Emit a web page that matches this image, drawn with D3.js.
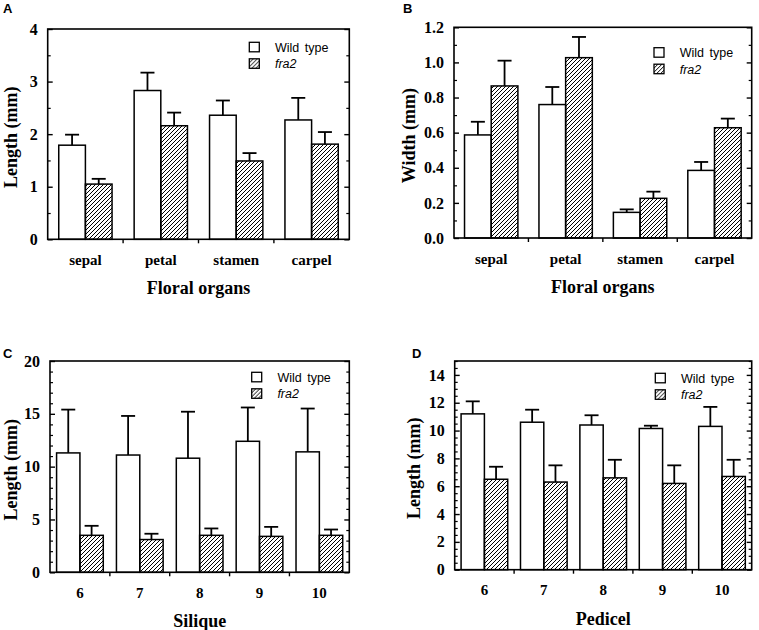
<!DOCTYPE html>
<html>
<head>
<meta charset="utf-8">
<script src="https://cdn.jsdelivr.net/npm/d3@7"></script>
<style>
  body { margin: 0; background: #fff; }
  svg { display: block; }
  .tick-label { font-family: "Liberation Serif", "Times New Roman", serif; font-weight: bold; font-size: 16px; }
  .xtick-label { font-family: "Liberation Serif", "Times New Roman", serif; font-weight: bold; font-size: 15px; }
  .axis-title { font-family: "Liberation Serif", "Times New Roman", serif; font-weight: bold; font-size: 18px; }
  .legend-text { font-family: "Liberation Sans", Arial, sans-serif; font-size: 12.5px; word-spacing: 2px; }
  .panel-letter { font-family: "Liberation Sans", Arial, sans-serif; font-weight: bold; font-size: 13px; }
</style>
</head>
<body>
<svg id="fig" width="759" height="630"></svg>
<script>
// ---- data ----
var organs = ['sepal', 'petal', 'stamen', 'carpel'];
var organLenWT = [1.79, 2.83, 2.36, 2.27];
var organLenWTErr = [0.20, 0.34, 0.28, 0.42];
var organLenFra2 = [1.05, 2.16, 1.49, 1.81];
var organLenFra2Err = [0.10, 0.25, 0.15, 0.23];

var organWidWT = [0.587, 0.76, 0.146, 0.385];
var organWidWTErr = [0.075, 0.10, 0.017, 0.048];
var organWidFra2 = [0.866, 1.027, 0.226, 0.628];
var organWidFra2Err = [0.144, 0.118, 0.038, 0.052];

var positions = ['6', '7', '8', '9', '10'];
var siliqueWT = [11.3, 11.1, 10.8, 12.4, 11.4];
var siliqueWTErr = [4.1, 3.7, 4.4, 3.2, 4.1];
var siliqueFra2 = [3.5, 3.1, 3.5, 3.4, 3.5];
var siliqueFra2Err = [0.9, 0.55, 0.65, 0.9, 0.55];

var pedicelWT = [11.2, 10.6, 10.4, 10.15, 10.3];
var pedicelWTErr = [0.9, 0.9, 0.7, 0.2, 1.4];
var pedicelFra2 = [6.5, 6.3, 6.6, 6.2, 6.7];
var pedicelFra2Err = [0.9, 1.2, 1.3, 1.3, 1.2];

var seriesNames = ['Wild type', 'fra2'];

// ---- panel layout (frame box, axis setup, legend spot) ----
var panels = [
  {letter: 'A', lx: 3, ly: 13, box: [47.7, 29, 349.3, 239.3], ymax: 4, major: 1, minor: 0.5, fmt: d3.format('d'),
   cats: organs, wt: organLenWT, wtErr: organLenWTErr, mu: organLenFra2, muErr: organLenFra2Err, pad: 0.293,
   xlab: 'Floral organs', ylab: 'Length (mm)', ylabX: 16.5, leg: [249.3, 42.3]},
  {letter: 'B', lx: 403, ly: 13, box: [454, 27.3, 751.7, 238], ymax: 1.2, major: 0.2, minor: 0.1, fmt: d3.format('.1f'),
   cats: organs, wt: organWidWT, wtErr: organWidWTErr, mu: organWidFra2, muErr: organWidFra2Err, pad: 0.283,
   xlab: 'Floral organs', ylab: 'Width (mm)', ylabX: 415, leg: [654, 47.7]},
  {letter: 'C', lx: 3, ly: 358, box: [50, 361, 349.3, 572.3], ymax: 20, major: 5, minor: 1, fmt: d3.format('d'),
   cats: positions, wt: siliqueWT, wtErr: siliqueWTErr, mu: siliqueFra2, muErr: siliqueFra2Err, pad: 0.22,
   xlab: 'Silique', ylab: 'Length (mm)', ylabX: 16.5, leg: [251.7, 372.3]},
  {letter: 'D', lx: 412, ly: 358, box: [454.7, 361, 751.7, 569.7], ymax: 15, major: 2, minor: 0.5, fmt: d3.format('d'),
   cats: positions, wt: pedicelWT, wtErr: pedicelWTErr, mu: pedicelFra2, muErr: pedicelFra2Err, pad: 0.215,
   xlab: 'Pedicel', ylab: 'Length (mm)', ylabX: 420, leg: [655.3, 373.3]}
];

var svg = d3.select('#fig');

// hatch for the fra2 bars
var defs = svg.append('defs');
defs.append('pattern')
    .attr('id', 'hatch')
    .attr('patternUnits', 'userSpaceOnUse')
    .attr('width', 4).attr('height', 4)
    .append('path')
    .attr('d', 'M-1,1 l2,-2 M0,4 l4,-4 M3,5 l2,-2')
    .attr('stroke', '#000')
    .attr('stroke-width', 1);

function drawPanel(p) {
    var left = p.box[0], top = p.box[1], right = p.box[2], bottom = p.box[3];
    var g = svg.append('g');

    var x0 = d3.scaleBand().domain(p.cats).range([left, right])
               .paddingInner(p.pad).paddingOuter(p.pad / 2);
    var x1 = d3.scaleBand().domain(seriesNames).range([0, x0.bandwidth()]);
    var y = d3.scaleLinear().domain([0, p.ymax]).range([bottom, top]);

    var majors = d3.range(0, p.ymax + 1e-9, p.major);
    var minors = d3.range(0, p.ymax + 1e-9, p.minor).filter(function (v) {
        return Math.abs(v / p.major - Math.round(v / p.major)) > 1e-6;
    });

    // bars
    var rows = p.cats.map(function (c, i) {
        return [{cat: c, s: 'Wild type', v: p.wt[i], e: p.wtErr[i]},
                {cat: c, s: 'fra2', v: p.mu[i], e: p.muErr[i]}];
    });
    var flat = d3.merge(rows);

    // error whiskers first, so the bar outline sits on top
    var cap = 7;
    var err = g.selectAll('g.err').data(flat).enter().append('g').attr('class', 'err');
    err.append('line')
       .attr('x1', function (d) { return x0(d.cat) + x1(d.s) + x1.bandwidth() / 2; })
       .attr('x2', function (d) { return x0(d.cat) + x1(d.s) + x1.bandwidth() / 2; })
       .attr('y1', function (d) { return y(d.v); })
       .attr('y2', function (d) { return y(d.v + d.e); })
       .attr('stroke', '#000').attr('stroke-width', 1.8);
    err.append('line')
       .attr('x1', function (d) { return x0(d.cat) + x1(d.s) + x1.bandwidth() / 2 - cap; })
       .attr('x2', function (d) { return x0(d.cat) + x1(d.s) + x1.bandwidth() / 2 + cap; })
       .attr('y1', function (d) { return y(d.v + d.e); })
       .attr('y2', function (d) { return y(d.v + d.e); })
       .attr('stroke', '#000').attr('stroke-width', 1.8);

    g.selectAll('rect.bar').data(flat).enter().append('rect')
     .attr('class', 'bar')
     .attr('x', function (d) { return x0(d.cat) + x1(d.s); })
     .attr('y', function (d) { return y(d.v); })
     .attr('width', x1.bandwidth())
     .attr('height', function (d) { return y(0) - y(d.v); })
     .attr('fill', function (d) { return d.s === 'fra2' ? 'url(#hatch)' : '#fff'; })
     .attr('stroke', '#000').attr('stroke-width', 1.5);

    // frame
    g.append('rect')
     .attr('x', left).attr('y', top)
     .attr('width', right - left).attr('height', bottom - top)
     .attr('fill', 'none').attr('stroke', '#000').attr('stroke-width', 1.6);

    // y ticks on both sides, pointing inward
    var leftAxis = d3.axisLeft(y).tickValues(majors).tickSize(-5).tickFormat(p.fmt).tickPadding(10);
    var la = g.append('g').attr('transform', 'translate(' + left + ',0)').call(leftAxis);
    la.select('.domain').remove();
    la.selectAll('text').attr('class', 'tick-label').attr('fill', '#000')
      .attr('font-size', null).attr('font-family', null);
    la.selectAll('line').attr('stroke-width', 1.4);

    var leftMinor = d3.axisLeft(y).tickValues(minors).tickSize(-3).tickFormat('');
    var lm = g.append('g').attr('transform', 'translate(' + left + ',0)').call(leftMinor);
    lm.select('.domain').remove();
    lm.selectAll('line').attr('stroke-width', 1.2);

    var rightAxis = d3.axisRight(y).tickValues(majors).tickSize(-5).tickFormat('');
    var ra = g.append('g').attr('transform', 'translate(' + right + ',0)').call(rightAxis);
    ra.select('.domain').remove();
    ra.selectAll('line').attr('stroke-width', 1.4);
    var rightMinor = d3.axisRight(y).tickValues(minors).tickSize(-3).tickFormat('');
    var rm = g.append('g').attr('transform', 'translate(' + right + ',0)').call(rightMinor);
    rm.select('.domain').remove();
    rm.selectAll('line').attr('stroke-width', 1.2);

    // x axis: labels centred under the groups, ticks at group boundaries
    var xAxis = d3.axisBottom(x0).tickSize(0).tickPadding(15);
    var xa = g.append('g').attr('transform', 'translate(0,' + bottom + ')').call(xAxis);
    xa.select('.domain').remove();
    xa.selectAll('text').attr('class', 'xtick-label').attr('fill', '#000')
      .attr('font-size', null).attr('font-family', null);
    var half = x0.step() * p.pad / 2;
    var bounds = p.cats.slice(1).map(function (c) { return x0(c) - half; });
    g.selectAll('line.xsep').data(bounds).enter().append('line')
     .attr('class', 'xsep')
     .attr('x1', function (d) { return d; }).attr('x2', function (d) { return d; })
     .attr('y1', bottom).attr('y2', bottom + 4)
     .attr('stroke', '#000').attr('stroke-width', 1.4);

    // titles
    g.append('text').attr('class', 'axis-title')
     .attr('x', (left + right) / 2).attr('y', bottom + 55)
     .attr('text-anchor', 'middle').text(p.xlab);
    g.append('text').attr('class', 'axis-title')
     .attr('transform', 'translate(' + p.ylabX + ',' + ((top + bottom) / 2 + 3) + ') rotate(-90)')
     .attr('text-anchor', 'middle').text(p.ylab);
    g.append('text').attr('class', 'panel-letter')
     .attr('x', p.lx).attr('y', p.ly).text(p.letter);

    // legend
    var lg = g.append('g').attr('transform', 'translate(' + p.leg[0] + ',' + p.leg[1] + ')');
    var items = lg.selectAll('g').data(seriesNames).enter().append('g')
                  .attr('transform', function (d, i) { return 'translate(0,' + (i * 16.5) + ')'; });
    items.append('rect')
         .attr('width', 10).attr('height', 9.5)
         .attr('fill', function (d) { return d === 'fra2' ? 'url(#hatch)' : '#fff'; })
         .attr('stroke', '#000').attr('stroke-width', 1.3);
    items.append('text').attr('class', 'legend-text')
         .attr('x', 25.7).attr('y', 9.5)
         .style('font-style', function (d) { return d === 'fra2' ? 'italic' : 'normal'; })
         .text(function (d) { return d; });
}

panels.forEach(drawPanel);
</script>
</body>
</html>
